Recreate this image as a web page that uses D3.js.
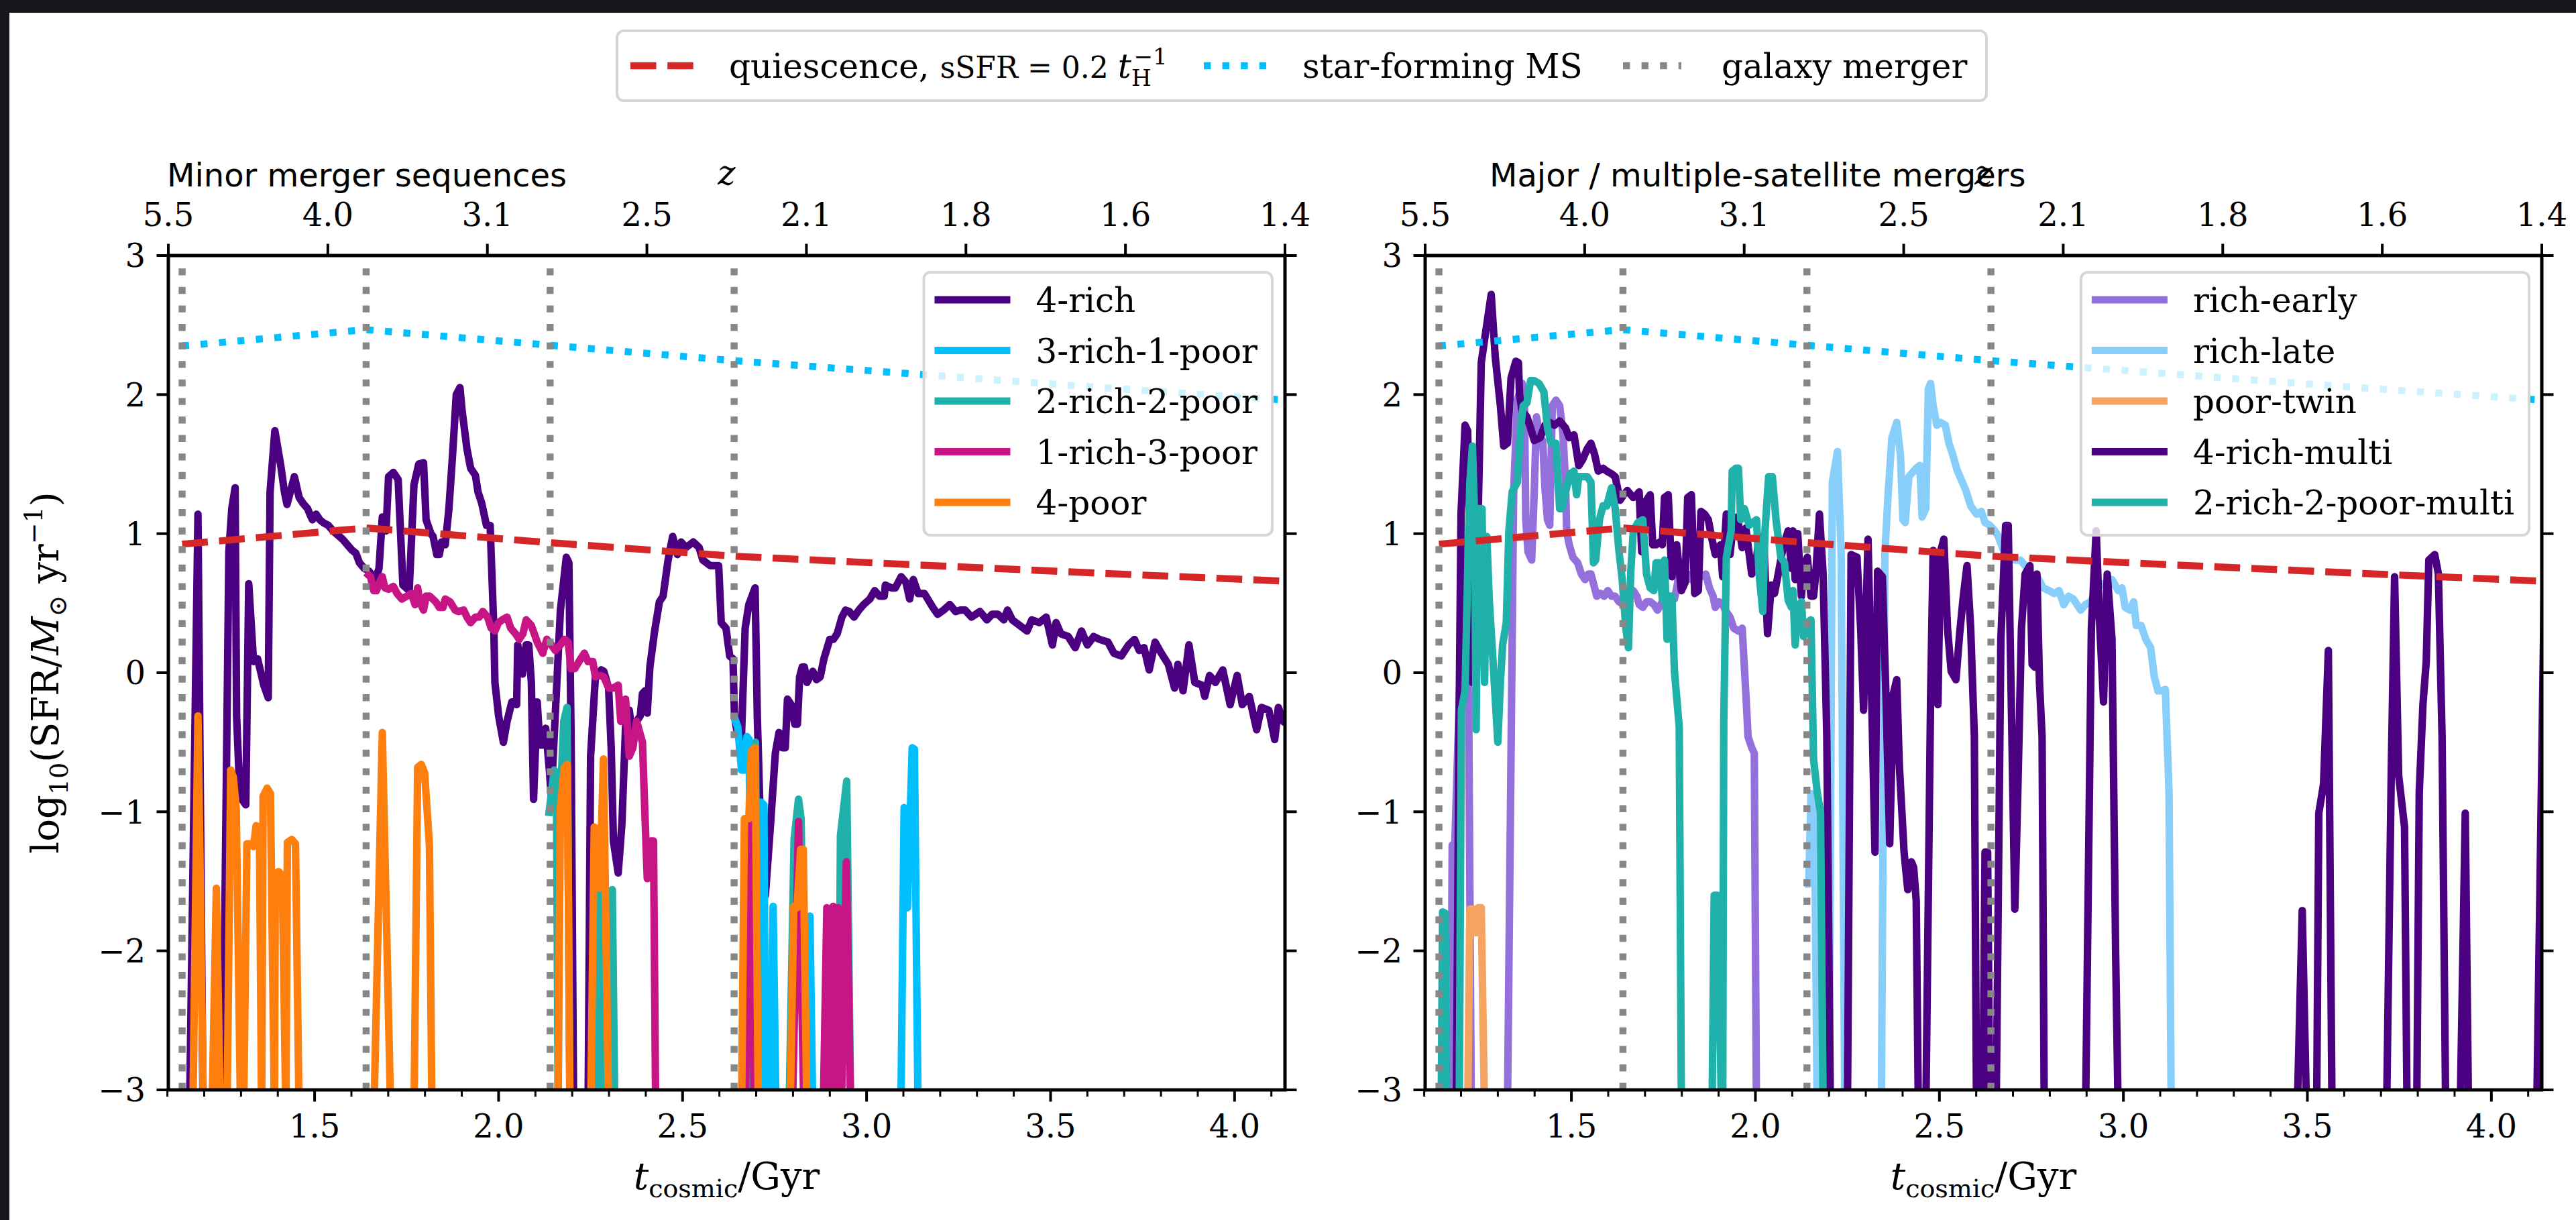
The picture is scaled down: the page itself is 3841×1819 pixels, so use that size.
<!DOCTYPE html>
<html>
<head>
<meta charset="utf-8">
<title>SFR histories of merger sequences</title>
<script src="https://cdn.jsdelivr.net/npm/d3@7"></script>
<style>
  html, body { margin: 0; padding: 0; background: #fff; }
  svg { display: block; }
  text { font-family: 'DejaVu Serif', serif; fill: #000; }
  .title { font-family: 'DejaVu Sans', sans-serif; }
</style>
</head>
<body>
<div id="sfr-chart"></div>
<script>
// values below the plotted range (SFR ~ 0) sit just under the bottom axis
const LOW = -3.2

const tRange = [1.1025, 4.137]
const yTicks = [-3, -2, -1, 0, 1, 2, 3]
const xMajorTicks = [1.5, 2.0, 2.5, 3.0, 3.5, 4.0]
const zTickLabels = ['5.5', '4.0', '3.1', '2.5', '2.1', '1.8', '1.6', '1.4']
const mergerTimes = [1.14, 1.64, 2.14, 2.64]
const refTimes = [1.14, 1.64, 2.14, 2.64, 3.14, 3.64, 4.14]
const msLevel = [2.35, 2.467, 2.355, 2.244, 2.146, 2.05, 1.96]
const quiescentLevel = [0.924, 1.041, 0.935, 0.838, 0.775, 0.715, 0.658]

// ---- minor merger sequences ----
const fourRich = [
  [1.160, LOW], [1.183, 1.14], [1.197, LOW], [1.250, LOW], [1.267, 0.87], [1.275, 1.18], [1.284, 1.33],
  [1.288, -0.31], [1.297, -0.89], [1.313, -0.95], [1.321, 0.64], [1.334, 0.08], [1.345, 0.10], [1.362, -0.09],
  [1.374, -0.18], [1.379, 1.30], [1.392, 1.74], [1.408, 1.49], [1.418, 1.30], [1.425, 1.21], [1.435, 1.31],
  [1.445, 1.41], [1.458, 1.26], [1.468, 1.22], [1.481, 1.18], [1.487, 1.14], [1.494, 1.10], [1.504, 1.14],
  [1.514, 1.10], [1.523, 1.08], [1.537, 1.06], [1.550, 1.02], [1.563, 0.99], [1.576, 0.96], [1.589, 0.92],
  [1.602, 0.88], [1.612, 0.86], [1.622, 0.79], [1.635, 0.75], [1.648, 0.73], [1.665, 0.67], [1.675, 0.75],
  [1.684, 1.12], [1.694, 1.02], [1.701, 1.41], [1.714, 1.44], [1.727, 1.39], [1.740, 0.63], [1.757, 0.59],
  [1.770, 1.35], [1.783, 1.50], [1.796, 1.51], [1.803, 1.10], [1.816, 1.00], [1.822, 0.98], [1.832, 0.85],
  [1.839, 0.85], [1.845, 0.94], [1.855, 0.92], [1.865, 1.18], [1.875, 1.57], [1.885, 2.00], [1.895, 2.05],
  [1.901, 1.88], [1.914, 1.61], [1.924, 1.47], [1.937, 1.42], [1.944, 1.30], [1.954, 1.22], [1.967, 1.06],
  [1.977, 1.06], [1.987, 0.32], [1.990, -0.07], [2.000, -0.31], [2.013, -0.50], [2.023, -0.35], [2.036, -0.21],
  [2.049, -0.23], [2.052, 0.20], [2.065, -0.01], [2.075, 0.20], [2.082, 0.20], [2.089, -0.07], [2.095, -0.91],
  [2.105, -0.21], [2.112, -0.52], [2.122, -0.52], [2.128, -0.40], [2.138, -0.70], [2.143, -0.89], [2.168, 0.45],
  [2.184, 0.83], [2.191, 0.79], [2.197, -0.46], [2.204, LOW], [2.243, LOW], [2.250, -0.60], [2.263, -0.03],
  [2.279, 0.02], [2.286, 0.01], [2.299, -0.11], [2.306, -0.54], [2.312, -1.21], [2.325, -1.44], [2.335, -1.09],
  [2.345, -0.39], [2.355, -0.27], [2.365, -0.47], [2.375, -0.35], [2.385, -0.31], [2.391, -0.15], [2.398, -0.13],
  [2.404, -0.29], [2.411, 0.04], [2.424, 0.30], [2.437, 0.51], [2.447, 0.55], [2.460, 0.80], [2.473, 0.98],
  [2.486, 0.85], [2.496, 0.94], [2.509, 0.90], [2.529, 0.94], [2.545, 0.90], [2.555, 0.81], [2.575, 0.77],
  [2.598, 0.77], [2.605, 0.36], [2.618, 0.32], [2.628, 0.12], [2.637, 0.10], [2.641, -0.31], [2.647, -0.41],
  [2.654, -0.48], [2.660, -0.46], [2.670, 0.32], [2.680, 0.49], [2.697, 0.61], [2.703, -0.31], [2.713, -1.25],
  [2.725, -1.60], [2.739, -1.09], [2.752, -0.58], [2.762, -0.43], [2.772, -0.54], [2.779, -0.54], [2.785, -0.19],
  [2.795, -0.23], [2.805, -0.37], [2.812, -0.37], [2.818, -0.03], [2.825, 0.04], [2.831, 0.04], [2.838, -0.07],
  [2.854, 0.01], [2.864, -0.05], [2.874, -0.03], [2.884, 0.10], [2.900, 0.24], [2.910, 0.24], [2.920, 0.28],
  [2.933, 0.40], [2.943, 0.45], [2.953, 0.44], [2.966, 0.40], [2.979, 0.45], [2.992, 0.49], [3.009, 0.53],
  [3.022, 0.59], [3.035, 0.55], [3.048, 0.55], [3.051, 0.63], [3.068, 0.61], [3.078, 0.61], [3.094, 0.69],
  [3.107, 0.65], [3.117, 0.53], [3.127, 0.67], [3.140, 0.57], [3.157, 0.57], [3.180, 0.47], [3.193, 0.42],
  [3.209, 0.45], [3.226, 0.49], [3.242, 0.44], [3.255, 0.45], [3.268, 0.45], [3.285, 0.40], [3.308, 0.44],
  [3.327, 0.38], [3.341, 0.42], [3.357, 0.42], [3.373, 0.38], [3.383, 0.45], [3.396, 0.38], [3.416, 0.34],
  [3.436, 0.30], [3.449, 0.38], [3.469, 0.36], [3.488, 0.40], [3.505, 0.20], [3.515, 0.36], [3.528, 0.28],
  [3.548, 0.26], [3.567, 0.18], [3.584, 0.30], [3.600, 0.20], [3.617, 0.26], [3.633, 0.24], [3.656, 0.22],
  [3.672, 0.14], [3.692, 0.12], [3.712, 0.20], [3.728, 0.24], [3.741, 0.16], [3.754, 0.18], [3.768, 0.02],
  [3.784, 0.22], [3.801, 0.14], [3.820, 0.06], [3.837, -0.11], [3.846, 0.06], [3.860, -0.13], [3.876, 0.20],
  [3.892, -0.07], [3.912, -0.09], [3.919, -0.17], [3.932, -0.02], [3.948, -0.07], [3.968, 0.02], [3.988, -0.23],
  [4.007, -0.02], [4.021, -0.23], [4.040, -0.17], [4.060, -0.41], [4.073, -0.25], [4.093, -0.27], [4.109, -0.48],
  [4.119, -0.25], [4.132, -0.35], [4.144, -0.37]
]

const threeRichOnePoor = [
  [2.639, -0.31], [2.650, -0.39], [2.660, -0.70], [2.668, -0.70], [2.675, -0.46], [2.681, -0.48], [2.689, LOW],
  [2.706, LOW], [2.713, -0.93], [2.721, -0.95], [2.726, LOW], [2.739, LOW], [2.746, -1.68], [2.754, LOW],
  [2.838, LOW], [2.846, -1.75], [2.854, LOW], [3.093, LOW], [3.102, -0.97], [3.111, -1.69], [3.124, -0.54],
  [3.130, -0.55], [3.140, LOW]
]

const twoRichTwoPoor = [
  [2.136, -1.03], [2.151, -0.70], [2.157, -0.72], [2.162, LOW], [2.165, -1.10], [2.177, -0.35], [2.186, -0.25],
  [2.194, LOW], [2.270, LOW], [2.274, -1.58], [2.281, LOW], [2.302, LOW], [2.309, -1.56], [2.316, LOW],
  [2.690, LOW], [2.698, -0.50], [2.706, LOW], [2.789, LOW], [2.803, -1.20], [2.815, -0.91], [2.822, -1.05],
  [2.835, LOW], [2.924, LOW], [2.929, -1.17], [2.946, -0.78], [2.957, LOW]
]

const oneRichThreePoor = [
  [1.639, 0.72], [1.652, 0.69], [1.661, 0.59], [1.668, 0.59], [1.678, 0.66], [1.684, 0.69], [1.691, 0.61],
  [1.701, 0.60], [1.714, 0.62], [1.724, 0.57], [1.737, 0.53], [1.750, 0.55], [1.763, 0.57], [1.773, 0.49],
  [1.780, 0.61], [1.786, 0.51], [1.796, 0.45], [1.803, 0.55], [1.813, 0.55], [1.829, 0.51], [1.839, 0.47],
  [1.849, 0.47], [1.855, 0.53], [1.868, 0.51], [1.882, 0.45], [1.891, 0.44], [1.905, 0.45], [1.914, 0.40],
  [1.924, 0.36], [1.937, 0.40], [1.947, 0.40], [1.957, 0.44], [1.970, 0.40], [1.980, 0.32], [1.990, 0.30],
  [2.000, 0.36], [2.010, 0.38], [2.023, 0.40], [2.033, 0.32], [2.046, 0.28], [2.056, 0.24], [2.066, 0.28],
  [2.075, 0.38], [2.089, 0.34], [2.105, 0.22], [2.120, 0.14], [2.131, 0.24], [2.141, 0.21], [2.154, 0.16],
  [2.168, 0.20], [2.179, 0.24], [2.189, 0.22], [2.197, 0.03], [2.207, 0.03], [2.223, 0.10], [2.233, 0.14],
  [2.243, 0.08], [2.256, 0.08], [2.263, -0.03], [2.276, -0.02], [2.286, -0.03], [2.299, -0.11], [2.312, -0.11],
  [2.325, -0.09], [2.332, -0.35], [2.345, -0.19], [2.355, -0.60], [2.365, -0.54], [2.375, -0.35], [2.391, -0.50],
  [2.397, -0.97], [2.404, -1.48], [2.414, -1.21], [2.421, -1.21], [2.427, LOW], [2.670, LOW], [2.684, -0.95],
  [2.695, LOW], [2.798, LOW], [2.815, -1.07], [2.830, LOW], [2.882, LOW], [2.892, -1.69], [2.900, LOW],
  [2.909, -1.68], [2.917, LOW], [2.923, -1.69], [2.931, LOW], [2.945, -1.36], [2.957, LOW]
]

const fourPoor = [
  [1.169, LOW], [1.183, -0.31], [1.198, LOW], [1.221, LOW], [1.233, -1.55], [1.244, LOW], [1.262, LOW],
  [1.272, -0.70], [1.279, -0.75], [1.287, -0.98], [1.299, LOW], [1.307, LOW], [1.316, -1.23], [1.328, -1.23],
  [1.334, -1.25], [1.341, -1.10], [1.350, -1.11], [1.356, LOW], [1.360, -0.89], [1.371, -0.83], [1.380, -0.87],
  [1.391, LOW], [1.393, -1.55], [1.402, -1.43], [1.412, -1.46], [1.422, LOW], [1.426, -1.22], [1.438, -1.20],
  [1.448, -1.23], [1.458, LOW], [1.661, LOW], [1.684, -0.43], [1.707, LOW], [1.770, LOW], [1.780, -0.68],
  [1.790, -0.66], [1.799, -0.72], [1.812, -1.24], [1.819, LOW], [2.161, LOW], [2.168, -0.97], [2.179, -0.68],
  [2.187, -0.66], [2.194, LOW], [2.250, LOW], [2.260, -1.11], [2.270, -1.13], [2.275, -1.55], [2.285, -0.62],
  [2.299, LOW], [2.660, LOW], [2.668, -1.05], [2.680, -1.05], [2.687, -0.56], [2.697, -0.54], [2.706, LOW],
  [2.792, LOW], [2.802, -1.68], [2.811, -1.69], [2.821, -1.27], [2.828, -1.27], [2.838, LOW]
]

// ---- major / multiple-satellite mergers ----
const richEarly = [
  [1.172, LOW], [1.176, -1.24], [1.183, -1.24], [1.201, 0.30], [1.211, 0.90], [1.221, -0.30], [1.228, LOW],
  [1.326, LOW], [1.343, 1.30], [1.353, 1.96], [1.366, 2.08], [1.372, 2.00], [1.376, 1.10], [1.382, 0.87],
  [1.392, 0.81], [1.399, 1.30], [1.405, 1.84], [1.415, 1.69], [1.422, 1.67], [1.428, 1.33], [1.435, 1.10],
  [1.441, 1.06], [1.448, 1.92], [1.458, 1.96], [1.468, 1.92], [1.477, 1.72], [1.484, 1.37], [1.487, 1.02],
  [1.494, 0.92], [1.504, 0.83], [1.517, 0.79], [1.527, 0.71], [1.537, 0.67], [1.546, 0.71], [1.553, 0.71],
  [1.563, 0.61], [1.569, 0.55], [1.579, 0.57], [1.589, 0.55], [1.599, 0.59], [1.609, 0.55], [1.619, 0.55],
  [1.629, 0.51], [1.642, 0.49], [1.655, 0.55], [1.668, 0.59], [1.678, 0.55], [1.684, 0.49], [1.694, 0.47],
  [1.704, 0.51], [1.714, 0.51], [1.724, 0.49], [1.734, 0.45], [1.747, 0.51], [1.757, 0.55], [1.766, 0.55],
  [1.780, 0.53], [1.786, 0.61], [1.793, 0.71], [1.806, 0.69], [1.816, 0.71], [1.826, 0.67], [1.839, 0.69],
  [1.852, 0.69], [1.865, 0.71], [1.875, 0.61], [1.885, 0.55], [1.891, 0.47], [1.901, 0.51], [1.911, 0.49],
  [1.918, 0.45], [1.931, 0.40], [1.941, 0.32], [1.954, 0.30], [1.964, 0.32], [1.974, -0.15], [1.980, -0.46],
  [1.990, -0.54], [1.997, -0.58], [2.003, LOW]
]

const richLate = [
  [2.135, -1.52], [2.145, -1.52], [2.151, -0.87], [2.161, -1.09], [2.168, LOW], [2.200, LOW], [2.209, 1.37],
  [2.223, 1.59], [2.233, 0.87], [2.243, LOW], [2.342, LOW], [2.352, 0.87], [2.361, 1.30], [2.371, 1.69],
  [2.384, 1.80], [2.394, 1.57], [2.401, 1.10], [2.407, 1.08], [2.417, 1.41], [2.437, 1.47], [2.447, 1.49],
  [2.453, 1.12], [2.463, 1.18], [2.470, 2.04], [2.476, 2.08], [2.483, 1.92], [2.493, 1.78], [2.503, 1.80],
  [2.516, 1.78], [2.526, 1.65], [2.536, 1.57], [2.549, 1.45], [2.559, 1.39], [2.572, 1.31], [2.585, 1.20],
  [2.601, 1.14], [2.614, 1.16], [2.624, 1.08], [2.637, 1.06], [2.651, 1.02], [2.660, 0.98], [2.674, 0.88],
  [2.690, 0.83], [2.706, 0.81], [2.720, 0.81], [2.733, 0.77], [2.746, 0.71], [2.766, 0.69], [2.782, 0.61],
  [2.798, 0.59], [2.812, 0.57], [2.825, 0.59], [2.838, 0.49], [2.851, 0.55], [2.864, 0.53], [2.874, 0.49],
  [2.884, 0.45], [2.897, 0.49], [2.910, 0.51], [2.920, 0.55], [2.936, 0.63], [2.956, 0.65], [2.969, 0.67],
  [2.986, 0.59], [2.996, 0.61], [3.005, 0.47], [3.018, 0.45], [3.028, 0.51], [3.035, 0.34], [3.048, 0.34],
  [3.061, 0.24], [3.074, 0.18], [3.084, -0.03], [3.094, -0.13], [3.104, -0.13], [3.114, -0.12], [3.124, -0.86],
  [3.130, LOW]
]

const poorTwin = [
  [1.218, LOW], [1.224, -1.70], [1.233, -1.70], [1.241, -1.87], [1.247, -1.69], [1.255, -1.69], [1.264, LOW]
]

const fourRichMulti = [
  [1.187, LOW], [1.195, -0.27], [1.200, 1.14], [1.211, 1.78], [1.218, 1.74], [1.231, -0.07], [1.247, 1.18],
  [1.255, 2.23], [1.267, 2.45], [1.282, 2.72], [1.293, 2.27], [1.307, 1.92], [1.316, 1.63], [1.326, 1.65],
  [1.336, 2.12], [1.349, 2.24], [1.356, 2.23], [1.359, 2.00], [1.366, 1.88], [1.379, 1.84], [1.389, 1.76],
  [1.399, 1.67], [1.415, 1.69], [1.428, 1.78], [1.441, 1.80], [1.454, 1.78], [1.468, 1.81], [1.484, 1.76],
  [1.494, 1.69], [1.507, 1.71], [1.520, 1.49], [1.530, 1.53], [1.543, 1.61], [1.553, 1.65], [1.563, 1.57],
  [1.573, 1.45], [1.586, 1.47], [1.596, 1.45], [1.609, 1.43], [1.619, 1.41], [1.632, 1.24], [1.642, 1.28],
  [1.652, 1.31], [1.668, 1.26], [1.678, 1.28], [1.684, 1.30], [1.691, 0.87], [1.704, 1.24], [1.714, 1.28],
  [1.721, 0.92], [1.730, 0.92], [1.740, 0.94], [1.747, 0.92], [1.753, 1.26], [1.763, 1.28], [1.773, 0.69],
  [1.786, 0.92], [1.799, 0.59], [1.809, 0.65], [1.816, 1.26], [1.826, 1.28], [1.835, 0.57], [1.845, 0.59],
  [1.852, 1.16], [1.862, 1.14], [1.872, 1.10], [1.882, 0.96], [1.891, 0.85], [1.905, 0.92], [1.911, 0.69],
  [1.921, 1.14], [1.931, 0.85], [1.941, 1.10], [1.951, 1.12], [1.964, 0.90], [1.974, 1.04], [1.990, 0.71],
  [2.000, 0.75], [2.010, 0.98], [2.023, 0.92], [2.033, 0.28], [2.043, 0.63], [2.052, 0.57], [2.062, 0.71],
  [2.075, 0.90], [2.089, 1.02], [2.098, 0.75], [2.102, 1.02], [2.108, 0.67], [2.115, 1.00], [2.125, 0.55],
  [2.131, 0.75], [2.141, 0.83], [2.151, 0.55], [2.158, 0.55], [2.164, 0.71], [2.174, 1.14], [2.184, 0.71],
  [2.194, -0.46], [2.204, LOW], [2.250, LOW], [2.260, 0.85], [2.276, 0.83], [2.286, 0.32], [2.294, -0.27],
  [2.306, 0.96], [2.315, -0.07], [2.325, -1.29], [2.332, 0.73], [2.345, 0.69], [2.355, -0.19], [2.365, -1.23],
  [2.375, -0.15], [2.384, -0.05], [2.391, -0.66], [2.404, -1.29], [2.414, -1.56], [2.424, -1.36], [2.430, -1.40],
  [2.437, -1.64], [2.443, LOW], [2.463, LOW], [2.476, -0.19], [2.483, 0.88], [2.496, -0.23], [2.503, 0.87],
  [2.512, 0.96], [2.522, 0.32], [2.532, 0.01], [2.545, -0.05], [2.555, 0.28], [2.565, 0.55], [2.575, 0.77],
  [2.585, 0.32], [2.595, -0.46], [2.601, LOW], [2.618, LOW], [2.624, -1.29], [2.631, -1.29], [2.637, LOW],
  [2.654, LOW], [2.667, 0.24], [2.680, 1.06], [2.687, 1.06], [2.697, -0.46], [2.705, -1.70], [2.713, -0.86],
  [2.723, 0.32], [2.733, 0.71], [2.746, 0.77], [2.752, 0.06], [2.759, 0.04], [2.765, 0.71], [2.772, -0.07],
  [2.779, -0.46], [2.785, LOW], [2.897, LOW], [2.913, 0.32], [2.926, 1.02], [2.936, 0.32], [2.946, -0.21],
  [2.956, 0.71], [2.969, 0.24], [2.979, -2.03], [2.986, LOW], [3.472, LOW], [3.486, -1.71], [3.498, LOW],
  [3.525, LOW], [3.531, -1.01], [3.544, -0.80], [3.557, 0.16], [3.567, LOW], [3.715, LOW], [3.728, -0.70],
  [3.737, 0.69], [3.748, -0.74], [3.764, -1.11], [3.771, LOW], [3.797, LOW], [3.804, -0.86], [3.814, -0.23],
  [3.823, 0.08], [3.830, 0.81], [3.846, 0.85], [3.856, 0.71], [3.866, -0.46], [3.876, LOW], [3.915, LOW],
  [3.929, -1.01], [3.938, LOW], [4.123, LOW], [4.145, 0.85]
]

const twoRichTwoPoorMulti = [
  [1.146, LOW], [1.150, -1.72], [1.157, -1.73], [1.161, LOW], [1.195, LOW], [1.201, -0.27], [1.211, -0.13],
  [1.218, 0.71], [1.224, 1.37], [1.231, 1.63], [1.237, 1.10], [1.241, -0.41], [1.247, 1.18], [1.257, 1.18],
  [1.264, -0.07], [1.270, 0.98], [1.277, 0.51], [1.287, 0.08], [1.300, -0.50], [1.307, -0.07], [1.313, 0.20],
  [1.323, 0.36], [1.330, 1.02], [1.339, 1.30], [1.353, 1.37], [1.362, 1.76], [1.369, 1.92], [1.379, 1.94],
  [1.389, 2.10], [1.399, 2.10], [1.412, 2.08], [1.425, 2.02], [1.435, 1.76], [1.445, 1.65], [1.458, 1.65],
  [1.468, 1.18], [1.474, 1.18], [1.484, 1.30], [1.497, 1.43], [1.507, 1.45], [1.514, 1.28], [1.520, 1.41],
  [1.530, 1.41], [1.543, 1.41], [1.553, 1.37], [1.560, 0.79], [1.566, 0.81], [1.576, 1.10], [1.586, 1.20],
  [1.596, 1.20], [1.609, 1.33], [1.619, 1.18], [1.629, 0.88], [1.638, 0.67], [1.648, 0.32], [1.655, 0.18],
  [1.661, 0.71], [1.668, 1.02], [1.681, 1.08], [1.694, 1.10], [1.704, 0.71], [1.714, 0.61], [1.724, 0.59],
  [1.730, 0.79], [1.740, 0.79], [1.747, 0.53], [1.753, 0.81], [1.760, 0.24], [1.766, 0.55], [1.773, 0.55],
  [1.780, 0.01], [1.793, -0.39], [1.799, LOW], [1.882, LOW], [1.888, -1.60], [1.898, -1.60], [1.908, LOW],
  [1.911, LOW], [1.914, -0.35], [1.921, 0.83], [1.934, 1.02], [1.937, 1.45], [1.947, 1.47], [1.954, 1.47],
  [1.960, 1.10], [1.970, 1.18], [1.983, 1.06], [1.993, 1.08], [2.003, 1.10], [2.010, 0.71], [2.020, 0.44],
  [2.026, 1.02], [2.036, 1.41], [2.046, 1.41], [2.056, 1.10], [2.069, 0.83], [2.079, 0.79], [2.089, 0.52],
  [2.098, 0.47], [2.102, 0.59], [2.108, 0.20], [2.115, 0.47], [2.125, 0.51], [2.131, 0.26], [2.141, 0.36],
  [2.151, 0.38], [2.158, -0.62], [2.168, -0.86], [2.177, -1.01], [2.184, LOW]
]

const panels = [
  {
    left: 251,
    title: 'Minor merger sequences',
    titleX: 249,
    series: [
      { label: '4-rich', color: '#4b0082', values: fourRich },
      { label: '3-rich-1-poor', color: '#00bfff', values: threeRichOnePoor },
      { label: '2-rich-2-poor', color: '#20b2aa', values: twoRichTwoPoor },
      { label: '1-rich-3-poor', color: '#c71585', values: oneRichThreePoor },
      { label: '4-poor', color: '#ff7f0e', values: fourPoor }
    ]
  },
  {
    left: 2125,
    title: 'Major / multiple-satellite mergers',
    titleX: 2221,
    series: [
      { label: 'rich-early', color: '#9370db', values: richEarly },
      { label: 'rich-late', color: '#87cefa', values: richLate },
      { label: 'poor-twin', color: '#f4a460', values: poorTwin },
      { label: '4-rich-multi', color: '#4b0082', values: fourRichMulti },
      { label: '2-rich-2-poor-multi', color: '#20b2aa', values: twoRichTwoPoorMulti }
    ]
  }
]

const width = 3841
const height = 1819
const plotTop = 381
const plotWidth = 1665
const plotHeight = 1244
const lineWidth = 10.4
const dataLineWidth = 11.2

const svg = d3
  .select('#sfr-chart')
  .append('svg')
  .attr('width', width)
  .attr('height', height)

svg.append('rect').attr('width', width).attr('height', height).attr('fill', '#fff')
// screenshot frame
svg.append('rect').attr('width', 14).attr('height', height).attr('fill', '#16181d')
svg.append('rect').attr('width', width).attr('height', 19).attr('fill', '#16181d')

const xPositionScale = d3.scaleLinear().domain(tRange).range([0, plotWidth])
const yPositionScale = d3.scaleLinear().domain([-3, 3]).range([plotHeight, 0])

const line = d3
  .line()
  .x(d => xPositionScale(d[0]))
  .y(d => yPositionScale(d[1]))

const xMinorTicks = d3.range(11, 42).map(d => d / 10).filter(d => !xMajorTicks.some(m => Math.abs(m - d) < 1e-6))
const zTickPositions = zTickLabels.map((d, i) => tRange[0] + (i * (tRange[1] - tRange[0])) / (zTickLabels.length - 1))

panels.forEach((panel, i) => drawPanel(panel, i))
drawTopLegend()

// y label (left panel only)
const yLabel = svg
  .append('text')
  .attr('transform', 'translate(87,1003) rotate(-90)')
  .attr('text-anchor', 'middle')
  .attr('font-size', 56)
yLabel.append('tspan').text('log')
yLabel.append('tspan').attr('font-size', 38).attr('dy', 14).text('10')
yLabel.append('tspan').attr('dy', -14).text('(SFR/')
yLabel.append('tspan').attr('font-style', 'italic').text('M')
yLabel.append('tspan').attr('font-size', 38).attr('dy', 12).text('\u2299')
yLabel.append('tspan').attr('dy', -12).text(' yr')
yLabel.append('tspan').attr('font-size', 38).attr('dy', -24).text('\u22121')
yLabel.append('tspan').attr('dy', 24).text(')')

function drawPanel(panel, i) {
  const g = svg.append('g').attr('transform', `translate(${panel.left},${plotTop})`)

  g.append('clipPath')
    .attr('id', 'clip-' + i)
    .append('rect')
    .attr('width', plotWidth)
    .attr('height', plotHeight)

  const plot = g.append('g').attr('clip-path', `url(#clip-${i})`)

  plot
    .selectAll('.sfr-line')
    .data(panel.series)
    .enter()
    .append('path')
    .attr('class', 'sfr-line')
    .attr('d', d => line(d.values))
    .attr('fill', 'none')
    .attr('stroke', d => d.color)
    .attr('stroke-width', dataLineWidth)
    .attr('stroke-linejoin', 'round')

  // star-forming main sequence and quiescence threshold
  plot
    .append('path')
    .attr('d', line(d3.zip(refTimes, msLevel)))
    .attr('fill', 'none')
    .attr('stroke', '#00bfff')
    .attr('stroke-width', lineWidth)
    .attr('stroke-dasharray', '10.4,17.2')

  plot
    .append('path')
    .attr('d', line(d3.zip(refTimes, quiescentLevel)))
    .attr('fill', 'none')
    .attr('stroke', '#d62728')
    .attr('stroke-width', lineWidth)
    .attr('stroke-dasharray', '38.5,16.7')

  plot
    .selectAll('.merger')
    .data(mergerTimes)
    .enter()
    .append('line')
    .attr('class', 'merger')
    .attr('x1', d => xPositionScale(d))
    .attr('x2', d => xPositionScale(d))
    .attr('y1', plotHeight)
    .attr('y2', 0)
    .attr('stroke', '#878787')
    .attr('stroke-width', lineWidth)
    .attr('stroke-dasharray', '10.4,17.2')

  // ticks
  const tickColor = '#000'
  g.selectAll('.ytick-l')
    .data(yTicks)
    .enter()
    .append('line')
    .attr('x1', 0)
    .attr('x2', -17.5)
    .attr('y1', d => yPositionScale(d))
    .attr('y2', d => yPositionScale(d))
    .attr('stroke', tickColor)
    .attr('stroke-width', 4)

  g.selectAll('.ytick-r')
    .data(yTicks)
    .enter()
    .append('line')
    .attr('x1', plotWidth)
    .attr('x2', plotWidth + 17.5)
    .attr('y1', d => yPositionScale(d))
    .attr('y2', d => yPositionScale(d))
    .attr('stroke', tickColor)
    .attr('stroke-width', 4)

  g.selectAll('.ylabel')
    .data(yTicks)
    .enter()
    .append('text')
    .attr('x', -34)
    .attr('y', d => yPositionScale(d))
    .attr('dy', '0.36em')
    .attr('text-anchor', 'end')
    .attr('font-size', 48)
    .text(d => (d < 0 ? '\u2212' + Math.abs(d) : String(d)))

  g.selectAll('.xtick')
    .data(xMajorTicks)
    .enter()
    .append('line')
    .attr('x1', d => xPositionScale(d))
    .attr('x2', d => xPositionScale(d))
    .attr('y1', plotHeight)
    .attr('y2', plotHeight + 17.5)
    .attr('stroke', tickColor)
    .attr('stroke-width', 4)

  g.selectAll('.xminor')
    .data(xMinorTicks)
    .enter()
    .append('line')
    .attr('x1', d => xPositionScale(d))
    .attr('x2', d => xPositionScale(d))
    .attr('y1', plotHeight)
    .attr('y2', plotHeight + 10)
    .attr('stroke', tickColor)
    .attr('stroke-width', 3)

  g.selectAll('.xlabel')
    .data(xMajorTicks)
    .enter()
    .append('text')
    .attr('x', d => xPositionScale(d))
    .attr('y', plotHeight + 71)
    .attr('text-anchor', 'middle')
    .attr('font-size', 48)
    .text(d => d.toFixed(1))

  g.selectAll('.ztick')
    .data(zTickPositions)
    .enter()
    .append('line')
    .attr('x1', d => xPositionScale(d))
    .attr('x2', d => xPositionScale(d))
    .attr('y1', 0)
    .attr('y2', -17.5)
    .attr('stroke', tickColor)
    .attr('stroke-width', 4)

  g.selectAll('.zlabel')
    .data(zTickPositions)
    .enter()
    .append('text')
    .attr('x', d => xPositionScale(d))
    .attr('y', -44)
    .attr('text-anchor', 'middle')
    .attr('font-size', 48)
    .text((d, j) => zTickLabels[j])

  // frame
  g.append('rect')
    .attr('width', plotWidth)
    .attr('height', plotHeight)
    .attr('fill', 'none')
    .attr('stroke', '#000')
    .attr('stroke-width', 5)

  // axis labels
  g.append('text')
    .attr('x', plotWidth / 2)
    .attr('y', -106)
    .attr('text-anchor', 'middle')
    .attr('font-size', 50)
    .attr('font-style', 'italic')
    .text('z')

  const xLabel = g
    .append('text')
    .attr('x', plotWidth / 2)
    .attr('y', plotHeight + 148)
    .attr('text-anchor', 'middle')
    .attr('font-size', 56)
  xLabel.append('tspan').attr('font-style', 'italic').text('t')
  xLabel.append('tspan').attr('font-size', 38).attr('dy', 12).text('cosmic')
  xLabel.append('tspan').attr('dy', -12).text('/Gyr')

  g.append('text')
    .attr('class', 'title')
    .attr('x', panel.titleX - panel.left)
    .attr('y', -103)
    .attr('font-size', 48)
    .text(panel.title)

  // legend
  const legend = g.append('g')
  const rows = legend
    .selectAll('.row')
    .data(panel.series)
    .enter()
    .append('g')
    .attr('transform', (d, j) => `translate(0,${41 + j * 75.5})`)
  rows
    .append('line')
    .attr('x1', 16)
    .attr('x2', 129)
    .attr('stroke', d => d.color)
    .attr('stroke-width', dataLineWidth)
  rows
    .append('text')
    .attr('x', 167)
    .attr('dy', '0.36em')
    .attr('font-size', 50)
    .text(d => d.label)

  let maxWidth = 0
  rows.selectAll('text').each(function() {
    maxWidth = Math.max(maxWidth, this.getComputedTextLength())
  })
  const boxWidth = 167 + maxWidth + 22
  legend
    .insert('rect', ':first-child')
    .attr('width', boxWidth)
    .attr('height', 392)
    .attr('rx', 10)
    .attr('fill', '#fff')
    .attr('fill-opacity', 0.8)
    .attr('stroke', '#d6d6d6')
    .attr('stroke-width', 4)
  legend.attr('transform', `translate(${plotWidth - 19 - boxWidth},25)`)
}

function drawTopLegend() {
  const legend = svg.append('g').attr('transform', 'translate(920,46)')
  legend
    .append('rect')
    .attr('width', 2042)
    .attr('height', 104)
    .attr('rx', 10)
    .attr('fill', '#fff')
    .attr('stroke', '#d6d6d6')
    .attr('stroke-width', 4)

  const handles = [
    { x1: 20, x2: 114, color: '#d62728', dash: '38.5,16.7' },
    { x1: 875, x2: 968, color: '#00bfff', dash: '10.4,17.2' },
    { x1: 1500, x2: 1587, color: '#878787', dash: '10.4,17.2' }
  ]
  legend
    .selectAll('.handle')
    .data(handles)
    .enter()
    .append('line')
    .attr('x1', d => d.x1)
    .attr('x2', d => d.x2)
    .attr('y1', 52)
    .attr('y2', 52)
    .attr('stroke', d => d.color)
    .attr('stroke-width', lineWidth)
    .attr('stroke-dasharray', d => d.dash)

  const q = legend.append('text').attr('x', 167).attr('y', 52).attr('dy', '0.36em').attr('font-size', 50)
  q.append('tspan').text('quiescence, ')
  q.append('tspan').attr('font-size', 44).text('sSFR = 0.2 ')
  q.append('tspan').attr('font-style', 'italic').text('t')
  q.append('tspan').attr('font-size', 34).attr('dy', 12).text('H')
  q.append('tspan').attr('font-size', 34).attr('dx', -26).attr('dy', -32).text('\u22121')

  legend.append('text').attr('x', 1022).attr('y', 52).attr('dy', '0.36em').attr('font-size', 50).text('star-forming MS')
  legend.append('text').attr('x', 1647).attr('y', 52).attr('dy', '0.36em').attr('font-size', 50).text('galaxy merger')
}
</script>
</body>
</html>
